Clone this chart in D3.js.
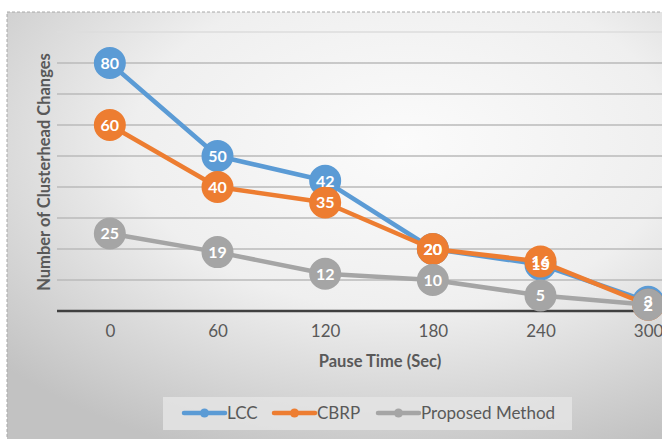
<!DOCTYPE html>
<html>
<head>
<meta charset="utf-8">
<script src="https://cdn.jsdelivr.net/npm/d3@7"></script>
<style>
  html, body { margin: 0; padding: 0; background: #ffffff; overflow: hidden; }
  svg { display: block; font-family: Lato, "Noto Sans", sans-serif; }
</style>
</head>
<body>
<svg id="chart" width="662" height="439"></svg>
<script>
// Pause time categories (seconds) and clusterhead changes per method
const pauseTimes = ["0", "60", "120", "180", "240", "300"];
const lcc = [80, 50, 42, 20, 15, 3];
const cbrp = [60, 40, 35, 20, 16, 2];
const proposed = [25, 19, 12, 10, 5, 2];
const yTicks = [10, 20, 30, 40, 50, 60, 70, 80, 90];

const series = [
  { name: "LCC", values: lcc, color: "#5B9BD5" },
  { name: "CBRP", values: cbrp, color: "#ED7D31" },
  { name: "Proposed Method", values: proposed, color: "#A5A5A5" }
];

const svg = d3.select("#chart");
const textColor = "#595959";

// Chart area background with a soft radial shading
const defs = svg.append("defs");
const grad = defs.append("radialGradient")
  .attr("id", "bg").attr("cx", 0.55).attr("cy", 0.3).attr("r", 0.75)
  .attr("fx", 0.55).attr("fy", 0.3);
grad.append("stop").attr("offset", 0).attr("stop-color", "#fbfbfb");
grad.append("stop").attr("offset", 0.5).attr("stop-color", "#efefef");
grad.append("stop").attr("offset", 1).attr("stop-color", "#c2c2c2");

svg.append("rect")
  .attr("x", 7).attr("y", 12).attr("width", 720).attr("height", 440)
  .attr("fill", "url(#bg)")
  .attr("stroke", "#a8a8a8").attr("stroke-width", 1)
  .attr("stroke-dasharray", "3,2");

// Scales
const x = d3.scalePoint().domain(pauseTimes).range([56, 702]).padding(0.5);
const y = d3.scaleLinear().domain([0, 90]).range([311, 32]);

// Horizontal gridlines
svg.append("g").selectAll("line").data(yTicks).join("line")
  .attr("x1", 57).attr("x2", 702)
  .attr("y1", d => y(d)).attr("y2", d => y(d))
  .attr("stroke", d => d === 90 ? "#dcdcdc" : "#bababa")
  .attr("stroke-width", 1.6);

// Category axis
const xAxis = svg.append("g")
  .attr("transform", `translate(0,${y(0)})`)
  .call(d3.axisBottom(x).tickSize(0).tickPadding(14));
xAxis.select(".domain").attr("stroke", "#404040").attr("stroke-width", 2.5)
  .attr("d", "M57,0H702");
xAxis.selectAll("text")
  .attr("fill", textColor).attr("font-size", 17)
  .attr("font-family", "Lato, 'Noto Sans', sans-serif");

// Axis titles
svg.append("text")
  .attr("x", 380).attr("y", 367)
  .attr("text-anchor", "middle")
  .attr("font-size", 16.5).attr("font-weight", "bold")
  .attr("fill", textColor)
  .text("Pause Time (Sec)");

svg.append("text")
  .attr("transform", "translate(50,172) rotate(-90)")
  .attr("text-anchor", "middle")
  .attr("font-size", 16.5).attr("font-weight", "bold")
  .attr("fill", textColor)
  .text("Number of Clusterhead Changes");

// Series lines and markers
const line = d3.line()
  .x((d, i) => x(pauseTimes[i]))
  .y(d => y(d));

series.forEach(s => {
  const g = svg.append("g");
  g.append("path")
    .attr("d", line(s.values))
    .attr("fill", "none")
    .attr("stroke", s.color)
    .attr("stroke-width", 4.5)
    .attr("stroke-linejoin", "round");
  g.selectAll("circle").data(s.values).join("circle")
    .attr("cx", (d, i) => x(pauseTimes[i]))
    .attr("cy", d => y(d))
    .attr("r", 15)
    .attr("fill", s.color)
    .attr("stroke", s.color)
    .attr("stroke-width", 2);
});

// Data labels on top of every marker
series.forEach(s => {
  svg.append("g").selectAll("text").data(s.values).join("text")
    .attr("x", (d, i) => x(pauseTimes[i]))
    .attr("y", d => y(d))
    .attr("dy", "0.36em")
    .attr("text-anchor", "middle")
    .attr("font-size", 16).attr("font-weight", "bold")
    .attr("fill", "#ffffff")
    .text(d => d);
});

// Legend
const legend = svg.append("g");
legend.append("rect")
  .attr("x", 163).attr("y", 397).attr("width", 409).attr("height", 33)
  .attr("fill", "#e4e4e4").attr("fill-opacity", 0.85);

const legendX = [184, 274, 378];
series.forEach((s, i) => {
  const lx = legendX[i];
  const ly = 413;
  legend.append("line")
    .attr("x1", lx).attr("x2", lx + 41)
    .attr("y1", ly).attr("y2", ly)
    .attr("stroke", s.color).attr("stroke-width", 4.5)
    .attr("stroke-linecap", "round");
  legend.append("circle")
    .attr("cx", lx + 20.5).attr("cy", ly).attr("r", 4.5)
    .attr("fill", s.color);
  legend.append("text")
    .attr("x", lx + 43).attr("y", ly + 6)
    .attr("font-size", 17).attr("fill", textColor)
    .text(s.name);
});
</script>
</body>
</html>
